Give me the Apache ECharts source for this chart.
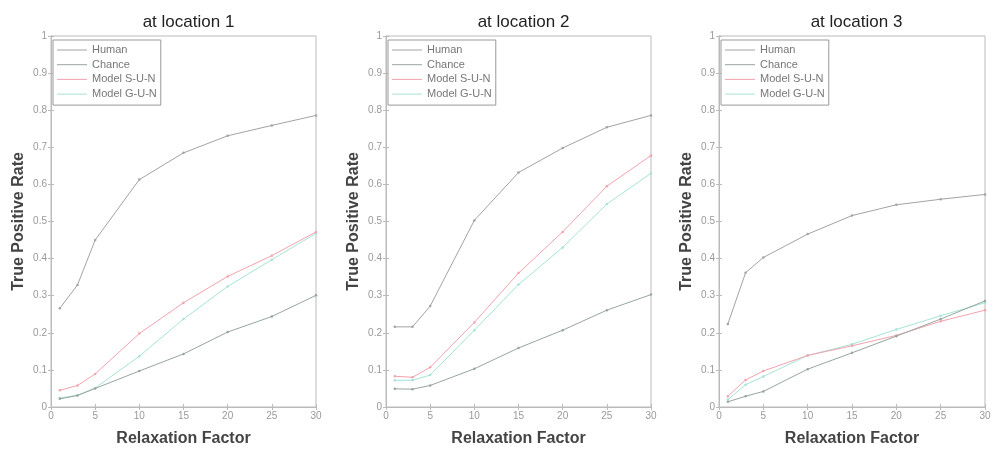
<!DOCTYPE html>
<html>
<head>
<meta charset="utf-8">
<script src="https://cdn.jsdelivr.net/npm/echarts@6/dist/echarts.min.js"></script>
<style>html,body{margin:0;padding:0;background:#fff}#c{width:994px;height:452px}</style>
</head>
<body>
<div id="c"></div>
<script>
var xValues = [1, 3, 5, 10, 15, 20, 25, 30];
var seriesNames = ['Human', 'Chance', 'Model S-U-N', 'Model G-U-N'];
var titles = ['at location 1', 'at location 2', 'at location 3'];

var loc1Human = [0.266, 0.329, 0.45, 0.613, 0.685, 0.731, 0.759, 0.786];
var loc1Chance = [0.022, 0.031, 0.05, 0.097, 0.143, 0.202, 0.244, 0.301];
var loc1SUN = [0.045, 0.058, 0.089, 0.198, 0.281, 0.352, 0.408, 0.472];
var loc1GUN = [0.024, 0.032, 0.051, 0.137, 0.237, 0.325, 0.397, 0.468];

var loc2Human = [0.216, 0.216, 0.272, 0.503, 0.632, 0.698, 0.754, 0.786];
var loc2Chance = [0.049, 0.048, 0.058, 0.103, 0.159, 0.207, 0.261, 0.303];
var loc2SUN = [0.083, 0.08, 0.107, 0.228, 0.361, 0.472, 0.595, 0.678];
var loc2GUN = [0.072, 0.072, 0.086, 0.207, 0.33, 0.43, 0.547, 0.63];

var loc3Human = [0.224, 0.362, 0.403, 0.466, 0.516, 0.545, 0.56, 0.573];
var loc3Chance = [0.014, 0.029, 0.042, 0.102, 0.146, 0.191, 0.237, 0.286];
var loc3SUN = [0.029, 0.073, 0.097, 0.139, 0.165, 0.193, 0.231, 0.261];
var loc3GUN = [0.02, 0.06, 0.082, 0.139, 0.169, 0.209, 0.246, 0.281];

var colors = ['#a3a3a3', '#98a69e', '#f2a3ad', '#a6e3d6'];
var locData = [
  [loc1Human, loc1Chance, loc1SUN, loc1GUN],
  [loc2Human, loc2Chance, loc2SUN, loc2GUN],
  [loc3Human, loc3Chance, loc3SUN, loc3GUN]
];

var gridLefts = [51, 386, 719];
var gridWidth = 265;
var font = 'Liberation Sans, Arial, sans-serif';

var grids = [], xAxes = [], yAxes = [], series = [], titleArr = [], legends = [];
var legendData = seriesNames.map(function (n, i) {
  return {name: n, itemStyle: {color: colors[i], borderWidth: 0}};
});
for (var g = 0; g < 3; g++) {
  grids.push({left: gridLefts[g], width: gridWidth + (g === 2 ? 1 : 0), top: 36, height: 380,
    show: true, borderColor: '#bbbbbb', borderWidth: 1, backgroundColor: '#fff'});
  titleArr.push({text: titles[g], left: gridLefts[g] + gridWidth / 2, top: 9, textAlign: 'center',
    textStyle: {fontFamily: font, fontSize: 17, fontWeight: 'normal', color: '#222'}});
  xAxes.push({type: 'value', gridIndex: g, min: 0, max: 30, interval: 5, position: 'bottom',
    name: 'Relaxation Factor', nameLocation: 'middle', nameGap: 24,
    nameTextStyle: {fontFamily: font, fontSize: 16, fontWeight: 'bold', color: '#444'},
    axisLine: {show: true, lineStyle: {color: '#bbbbbb'}},
    axisTick: {show: true, inside: true, length: 3, lineStyle: {color: '#bbbbbb'}},
    axisLabel: {fontFamily: font, fontSize: 10, color: '#999', margin: 4},
    splitLine: {show: false}});
  xAxes.push({type: 'value', gridIndex: g, min: 0, max: 30, interval: 5, position: 'top',
    axisLine: {show: true, lineStyle: {color: '#bbbbbb'}},
    axisTick: {show: true, inside: true, length: 3, lineStyle: {color: '#bbbbbb'}},
    axisLabel: {show: false}, splitLine: {show: false}});
  yAxes.push({type: 'value', gridIndex: g, min: 0, max: 1, interval: 0.1, position: 'left',
    name: 'True Positive Rate', nameLocation: 'middle', nameGap: 24,
    nameTextStyle: {fontFamily: font, fontSize: 16, fontWeight: 'bold', color: '#444'},
    axisLine: {show: true, lineStyle: {color: '#bbbbbb'}},
    axisTick: {show: true, inside: true, length: 3, lineStyle: {color: '#bbbbbb'}},
    axisLabel: {fontFamily: font, fontSize: 10, color: '#999', margin: 4,
      formatter: function (v) { return (Math.round(v * 10) / 10).toString(); }},
    splitLine: {show: false}});
  yAxes.push({type: 'value', gridIndex: g, min: 0, max: 1, interval: 0.1, position: 'right',
    axisLine: {show: true, lineStyle: {color: '#bbbbbb'}},
    axisTick: {show: true, inside: true, length: 3, lineStyle: {color: '#bbbbbb'}},
    axisLabel: {show: false}, splitLine: {show: false}});
  legends.push({orient: 'vertical', left: gridLefts[g] + 2, top: 40, data: legendData,
    itemWidth: 30, itemHeight: 12, itemGap: 2.7, itemTextGap: 3, padding: [4, 4, 5, 4],
    borderColor: '#999', borderWidth: 1, backgroundColor: '#fff',
    icon: 'path://M0,5.5L30,5.5L30,6.5L0,6.5Z',
    textStyle: {fontFamily: font, fontSize: 11, color: '#777', lineHeight: 12}});
  for (var s = 0; s < 4; s++) {
    var pts = xValues.map(function (x, i) { return [x, locData[g][s][i]]; });
    series.push({name: seriesNames[s], type: 'line', xAxisIndex: g * 2, yAxisIndex: g * 2,
      data: pts, symbol: 'circle', symbolSize: 2.5, showSymbol: true,
      itemStyle: {color: colors[s]}, lineStyle: {color: colors[s], width: 1}, z: 2 + (4 - s)});
  }
}

var chart = echarts.init(document.getElementById('c'));
chart.setOption({
  animation: false,
  backgroundColor: '#fff',
  title: titleArr,
  legend: legends,
  grid: grids,
  xAxis: xAxes,
  yAxis: yAxes,
  series: series
});
</script>
</body>
</html>
